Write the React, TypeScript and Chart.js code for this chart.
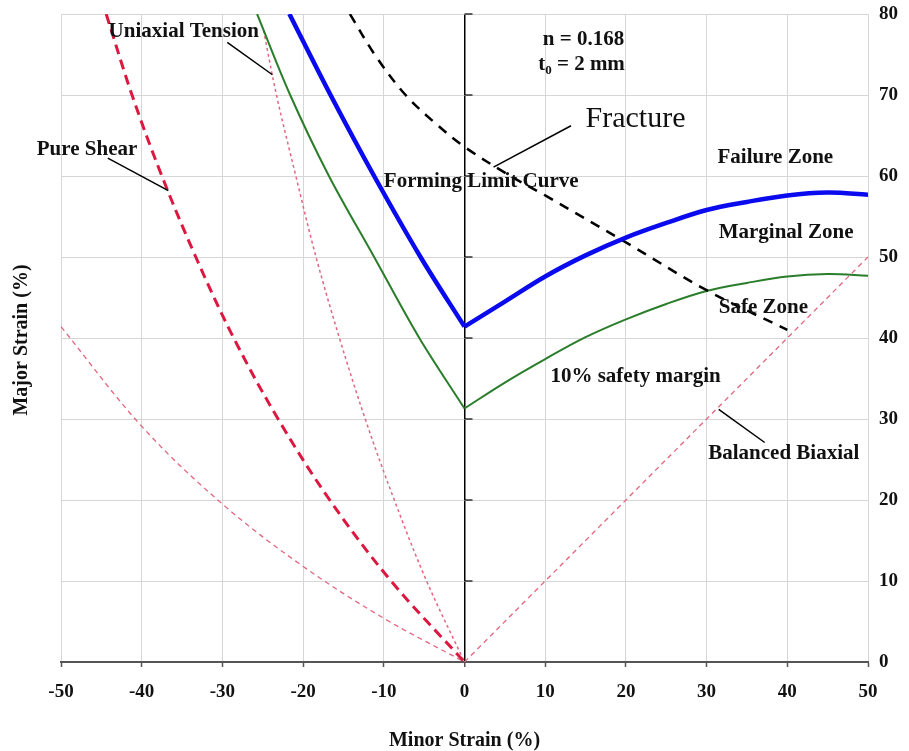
import React, { useEffect, useRef } from 'react';
import { Chart, registerables } from 'chart.js';

Chart.register(...registerables);

// ---- axes ----
const xTicks = [-50, -40, -30, -20, -10, 0, 10, 20, 30, 40, 50];
const yTicks = [0, 10, 20, 30, 40, 50, 60, 70, 80];

// ---- Forming Limit Curve (blue) ----
const flcLeftX = [-21.7, -16.6, -11.2, -5.45, 0];
const flcLeftY = [80, 70, 60, 50, 41.4];
const flcRightX = [0, 5, 10, 15, 20, 25, 30, 35, 40, 45, 50];
const flcRightY = [41.4, 44.5, 47.6, 50.2, 52.4, 54.2, 55.8, 56.8, 57.6, 57.95, 57.7];

// ---- 10% safety margin (green) ----
const safeLeftX = [-25.7, -21.6, -16.8, -11.2, -5.6, 0];
const safeLeftY = [80, 70, 60, 50, 40, 31.3];
const safeRightX = [0, 5, 10, 15, 20, 25, 30, 35, 40, 45, 50];
const safeRightY = [31.3, 34.5, 37.4, 40.1, 42.3, 44.2, 45.8, 46.8, 47.6, 47.9, 47.7];

// ---- Fracture (black dashed) ----
const fractureX = [-14.2, -11.0, -7.3, -3.6, 0, 5.7, 10, 20, 30, 40];
const fractureY = [80, 74.8, 70, 66.5, 63.6, 60, 57.6, 51.8, 45.9, 41];

// ---- strain paths ----
const pureShearX = [-44.4, -41.2, -37.5, -33.3, -28.6, -23.1, -16.7, -9.1, 0];
const pureShearY = [80, 70, 60, 50, 40, 30, 20, 10, 0];
const uniTensionX = [-24.9, -23.3, -20.9, -18.4, -15.5, -12.3, -8.7, -4.7, 0];
const uniTensionY = [78, 70, 60, 50, 40, 30, 20, 10, 0];
const uniCompX = [-50, -40, -30, -20, -10, 0];
const uniCompY = [41.4, 29.1, 19.5, 11.8, 5.4, 0];
const biaxialX = [0, 50];
const biaxialY = [0, 50];

const zip = (xs: number[], ys: number[]) => xs.map((x, i) => ({ x, y: ys[i] }));

const SERIF = '"Liberation Serif", "Times New Roman", serif';
const BOLD21 = `bold 21px ${SERIF}`;

// annotation text: left/center x, baseline y in data units
const notes = [
  { text: 'Uniaxial Tension', x: -44.1, y: 77.2, align: 'left', font: BOLD21 },
  { text: 'Pure Shear', x: -53.0, y: 62.6, align: 'left', font: BOLD21 },
  { text: 'Forming Limit Curve', x: -10.0, y: 58.6, align: 'left', font: BOLD21 },
  { text: 'Fracture', x: 15.0, y: 66.1, align: 'left', font: `30px ${SERIF}` },
  { text: 'Failure Zone', x: 31.35, y: 61.6, align: 'left', font: BOLD21 },
  { text: 'Marginal Zone', x: 31.5, y: 52.4, align: 'left', font: BOLD21 },
  { text: 'Safe Zone', x: 31.5, y: 43.1, align: 'left', font: BOLD21 },
  { text: '10% safety margin', x: 10.65, y: 34.6, align: 'left', font: BOLD21 },
  { text: 'Balanced Biaxial', x: 30.2, y: 25.1, align: 'left', font: BOLD21 },
  { text: 'n = 0.168', x: 14.75, y: 76.2, align: 'center', font: BOLD21 },
];

const leaders = [
  [-29.4, 76.5, -23.8, 72.5],
  [-44.2, 62.2, -36.7, 58.2],
  [13.2, 66.2, 3.6, 61.1],
  [31.5, 31.2, 37.2, 27.1],
];

const overlayPlugin = {
  id: 'overlay',
  afterDraw(chart: any) {
    const { ctx, chartArea } = chart;
    const xs = chart.scales.x;
    const ys = chart.scales.y;
    const X = (v: number) => xs.getPixelForValue(v);
    const Y = (v: number) => ys.getPixelForValue(v);
    ctx.save();
    // small tick marks on the vertical axis at x = 0
    ctx.strokeStyle = '#000';
    ctx.lineWidth = 1.2;
    yTicks.forEach((t) => {
      if (t === 0) return;
      ctx.beginPath();
      ctx.moveTo(X(0), Y(t));
      ctx.lineTo(X(0) + 8, Y(t));
      ctx.stroke();
    });
    // leader lines
    ctx.lineWidth = 1.5;
    leaders.forEach(([x1, y1, x2, y2]) => {
      ctx.beginPath();
      ctx.moveTo(X(x1), Y(y1));
      ctx.lineTo(X(x2), Y(y2));
      ctx.stroke();
    });
    // texts
    ctx.fillStyle = '#111';
    ctx.textBaseline = 'alphabetic';
    notes.forEach((n) => {
      ctx.font = n.font;
      ctx.textAlign = n.align;
      ctx.fillText(n.text, X(n.x), Y(n.y));
    });
    // t0 = 2 mm with subscript
    {
      ctx.font = BOLD21;
      const w1 = ctx.measureText('t').width;
      const rest = ' = 2 mm';
      const w3 = ctx.measureText(rest).width;
      ctx.font = `bold 13px ${SERIF}`;
      const w2 = ctx.measureText('0').width;
      const total = w1 + w2 + w3;
      let px = X(14.5) - total / 2;
      const py = Y(73.1);
      ctx.textAlign = 'left';
      ctx.font = BOLD21;
      ctx.fillText('t', px, py);
      px += w1;
      ctx.font = `bold 13px ${SERIF}`;
      ctx.fillText('0', px, py + 4);
      px += w2;
      ctx.font = BOLD21;
      ctx.fillText(rest, px, py);
    }
    // left axis title
    ctx.save();
    ctx.translate(chartArea.left - 39, (chartArea.top + chartArea.bottom) / 2 + 2);
    ctx.rotate(-Math.PI / 2);
    ctx.font = `bold 20px ${SERIF}`;
    ctx.textAlign = 'center';
    ctx.textBaseline = 'middle';
    ctx.fillText('Major Strain (%)', 0, 0);
    ctx.restore();
    ctx.restore();
  },
};

export default function App() {
  const ref = useRef<HTMLCanvasElement | null>(null);
  useEffect(() => {
    document.body.style.margin = '0';
    document.body.style.overflow = 'hidden';
    if (!ref.current) return;
    const thinPink = '#e2667f';
    const base = { pointRadius: 0, fill: false, tension: 0.35 };
    const chart = new Chart(ref.current, {
      type: 'line',
      data: {
        datasets: [
          { ...base, label: 'FLC left', data: zip(flcLeftX, flcLeftY), borderColor: '#0a0aee', borderWidth: 4.5 },
          { ...base, label: 'FLC right', data: zip(flcRightX, flcRightY), borderColor: '#0a0aee', borderWidth: 4.5 },
          { ...base, label: 'Fracture', data: zip(fractureX, fractureY), borderColor: '#000', borderWidth: 2.5, borderDash: [10, 8] },
          { ...base, label: 'Safe left', data: zip(safeLeftX, safeLeftY), borderColor: '#2a7d2a', borderWidth: 2 },
          { ...base, label: 'Safe right', data: zip(safeRightX, safeRightY), borderColor: '#2a7d2a', borderWidth: 2 },
          { ...base, label: 'Pure Shear', data: zip(pureShearX, pureShearY), borderColor: '#dc1840', borderWidth: 3, borderDash: [10, 6] },
          { ...base, label: 'Uniaxial Tension', data: zip(uniTensionX, uniTensionY), borderColor: thinPink, borderWidth: 1.5, borderDash: [3, 3] },
          { ...base, label: 'Uniaxial Compression', data: zip(uniCompX, uniCompY), borderColor: thinPink, borderWidth: 1.3, borderDash: [5, 4] },
          { ...base, label: 'Balanced Biaxial', data: zip(biaxialX, biaxialY), borderColor: thinPink, borderWidth: 1.3, borderDash: [5, 4] },
        ],
      },
      options: {
        animation: false,
        responsive: true,
        maintainAspectRatio: false,
        devicePixelRatio: 1,
        layout: { padding: { left: 61, top: 14, right: 0, bottom: 0 } },
        plugins: { legend: { display: false }, tooltip: { enabled: false } },
        scales: {
          x: {
            type: 'linear',
            min: -50,
            max: 50,
            afterFit: (s: any) => { s.height = 89; s.paddingLeft = 0; s.paddingRight = 0; },
            afterBuildTicks: (s: any) => { s.ticks = xTicks.map((v) => ({ value: v })); },
            ticks: { padding: 14, color: '#111', font: { family: SERIF, size: 19, weight: 'bold' } },
            grid: {
              color: (c: any) => (c.tick && c.tick.value === 0 ? '#000' : '#d6d6d6'),
              lineWidth: (c: any) => (c.tick && c.tick.value === 0 ? 1.5 : 1),
              drawTicks: true,
              tickLength: 5,
              tickColor: '#555',
              tickWidth: 1.5,
            },
            border: { display: true, color: '#555', width: 2 },
            title: {
              display: true,
              text: 'Minor Strain (%)',
              color: '#111',
              font: { family: SERIF, size: 20, weight: 'bold' },
              padding: { top: 0, bottom: -2 },
            },
          },
          y: {
            type: 'linear',
            position: 'right',
            min: 0,
            max: 80,
            afterFit: (s: any) => { s.width = 41; s.paddingTop = 0; s.paddingBottom = 0; },
            afterBuildTicks: (s: any) => { s.ticks = yTicks.map((v) => ({ value: v })); },
            ticks: { padding: 11, color: '#111', font: { family: SERIF, size: 19, weight: 'bold' } },
            grid: { color: '#d6d6d6', lineWidth: 1, drawTicks: false },
            border: { display: false },
          },
        },
      },
      plugins: [overlayPlugin],
    });
    return () => chart.destroy();
  }, []);
  return (
    <div style={{ position: 'relative', width: 909, height: 751 }}>
      <canvas ref={ref} />
    </div>
  );
}
